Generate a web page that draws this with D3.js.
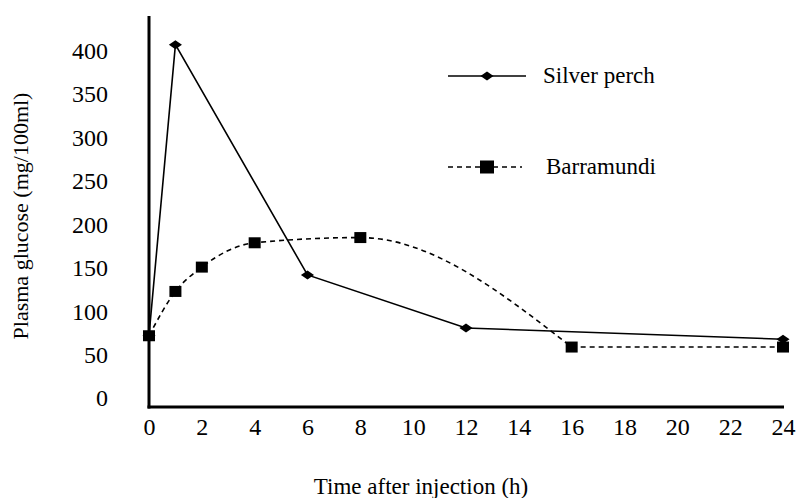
<!DOCTYPE html>
<html>
<head>
<meta charset="utf-8">
<script src="https://cdn.jsdelivr.net/npm/d3@7"></script>
<style>
  body { margin: 0; background: #fff; }
</style>
</head>
<body>
<div id="chart-container"></div>
<script>
// Time after injection (h)
const silverHours = [0, 1, 6, 12, 24];
const silverGlucose = [72, 407, 142, 81, 68];

const barraHours = [0, 1, 2, 4, 8, 16, 24];
const barraGlucose = [72, 123, 151, 179, 185, 59, 59];

const xTicks = [0, 2, 4, 6, 8, 10, 12, 14, 16, 18, 20, 22, 24];
const yTicks = [0, 50, 100, 150, 200, 250, 300, 350, 400];

const legendItems = ["Silver perch", "Barramundi"];

const svgWidth = 798;
const svgHeight = 498;
const serif = '"Liberation Serif", "Times New Roman", serif';

const svg = d3.select("#chart-container")
    .append("svg")
    .attr("width", svgWidth)
    .attr("height", svgHeight);

// Scales
const xScale = d3.scaleLinear()
    .domain([0, 24])
    .range([149, 783]);

const yScale = d3.scaleLinear()
    .domain([-10, 440])
    .range([407, 16]);

// Axes (plain lines, labels without tick marks)
svg.append("line")
    .attr("x1", xScale(0)).attr("x2", xScale(0))
    .attr("y1", yScale(440)).attr("y2", yScale(-10) + 1.5)
    .attr("stroke", "#000").attr("stroke-width", 3);

svg.append("line")
    .attr("x1", xScale(0) - 1.5).attr("x2", 784)
    .attr("y1", yScale(-10)).attr("y2", yScale(-10))
    .attr("stroke", "#000").attr("stroke-width", 3);

const xAxis = svg.append("g")
    .attr("transform", `translate(0, ${yScale(-10) + 8})`)
    .call(d3.axisBottom(xScale).tickValues(xTicks).tickSize(0).tickFormat(d3.format("d")));
xAxis.select(".domain").remove();
xAxis.selectAll("text")
    .style("font-family", serif)
    .style("font-size", "24px")
    .attr("fill", "#000");

const yAxis = svg.append("g")
    .attr("transform", `translate(111, 0)`)
    .call(d3.axisLeft(yScale).tickValues(yTicks).tickSize(0).tickFormat(d3.format("d")));
yAxis.select(".domain").remove();
yAxis.selectAll("text")
    .style("font-family", serif)
    .style("font-size", "24px")
    .attr("fill", "#000");

// Axis titles
svg.append("text")
    .attr("x", 421)
    .attr("y", 494)
    .attr("text-anchor", "middle")
    .style("font-family", serif)
    .style("font-size", "23px")
    .text("Time after injection (h)");

svg.append("text")
    .attr("transform", "translate(28, 216) rotate(-90)")
    .attr("text-anchor", "middle")
    .style("font-family", serif)
    .style("font-size", "22px")
    .text("Plasma glucose (mg/100ml)");

// Series
const silver = silverHours.map((h, i) => ({ h, v: silverGlucose[i] }));
const barra = barraHours.map((h, i) => ({ h, v: barraGlucose[i] }));

const straight = d3.line()
    .x(d => xScale(d.h))
    .y(d => yScale(d.v));

const smooth = d3.line()
    .curve(d3.curveMonotoneX)
    .x(d => xScale(d.h))
    .y(d => yScale(d.v));

// smoothed up to 16 h, then the flat tail
svg.append("path")
    .datum(barra.slice(0, 6))
    .attr("fill", "none")
    .attr("stroke", "#000")
    .attr("stroke-width", 1.6)
    .attr("stroke-dasharray", "5,4")
    .attr("d", smooth);

svg.append("path")
    .datum(barra.slice(5))
    .attr("fill", "none")
    .attr("stroke", "#000")
    .attr("stroke-width", 1.6)
    .attr("stroke-dasharray", "5,4")
    .attr("d", straight);

svg.append("path")
    .datum(silver)
    .attr("fill", "none")
    .attr("stroke", "#000")
    .attr("stroke-width", 1.6)
    .attr("d", straight);

const diamond = d3.symbol().type(d3.symbolDiamond2).size(70);

svg.selectAll(".barra-pt")
    .data(barra)
    .enter().append("rect")
    .attr("x", d => xScale(d.h) - 6)
    .attr("y", d => yScale(d.v) - 5.5)
    .attr("width", 12)
    .attr("height", 11)
    .attr("fill", "#000");

svg.selectAll(".silver-pt")
    .data(silver)
    .enter().append("path")
    .attr("transform", d => `translate(${xScale(d.h)}, ${yScale(d.v)}) scale(1.25, 0.85)`)
    .attr("d", diamond)
    .attr("fill", "#000");

// Legend
function drawLegend(svg) {
    const x0 = 448, x1 = 526, xm = 487;
    const rows = [76, 167];

    // Silver perch
    svg.append("line")
        .attr("x1", x0).attr("x2", x1)
        .attr("y1", rows[0]).attr("y2", rows[0])
        .attr("stroke", "#000").attr("stroke-width", 1.6);
    svg.append("path")
        .attr("transform", `translate(${xm}, ${rows[0]}) scale(1.25, 0.85)`)
        .attr("d", diamond)
        .attr("fill", "#000");
    svg.append("text")
        .attr("x", 543)
        .attr("y", rows[0] + 7)
        .style("font-family", serif)
        .style("font-size", "23px")
        .text(legendItems[0]);

    // Barramundi
    svg.append("line")
        .attr("x1", x0).attr("x2", 522)
        .attr("y1", rows[1]).attr("y2", rows[1])
        .attr("stroke", "#000").attr("stroke-width", 1.4)
        .attr("stroke-dasharray", "5,4");
    svg.append("rect")
        .attr("x", xm - 7).attr("y", rows[1] - 6.5)
        .attr("width", 14).attr("height", 13)
        .attr("fill", "#000");
    svg.append("text")
        .attr("x", 546)
        .attr("y", rows[1] + 7)
        .style("font-family", serif)
        .style("font-size", "23px")
        .text(legendItems[1]);
}

drawLegend(svg);
</script>
</body>
</html>
